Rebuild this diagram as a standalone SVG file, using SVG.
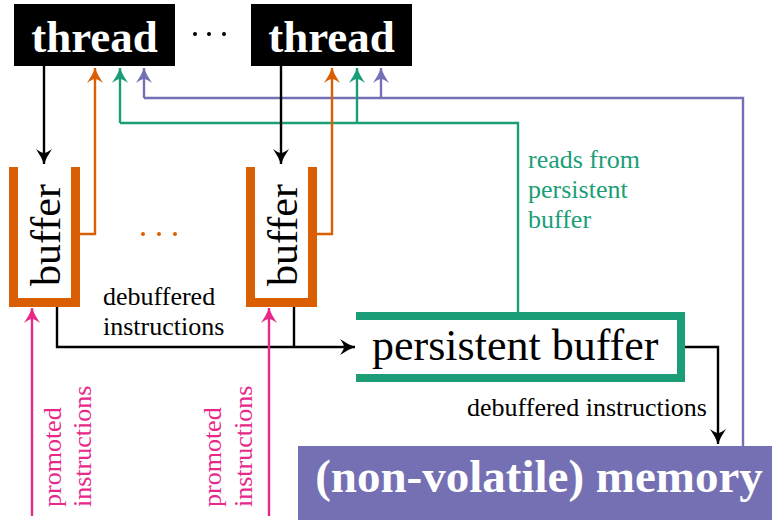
<svg xmlns="http://www.w3.org/2000/svg" width="772" height="520" viewBox="0 0 772 520" font-family="Liberation Serif, serif">
<defs>
<path id="ahp" d="M0,0 Q-7,-2.5 -15,-8 Q-11,-2.5 -11,0 Q-11,2.5 -15,8 Q-7,2.5 0,0 Z"/>
<marker id="ah-k" markerUnits="userSpaceOnUse" orient="auto" overflow="visible" markerWidth="1" markerHeight="1"><use href="#ahp" fill="#000"/></marker>
<marker id="ah-o" markerUnits="userSpaceOnUse" orient="auto" overflow="visible" markerWidth="1" markerHeight="1"><use href="#ahp" fill="#d95f02"/></marker>
<marker id="ah-g" markerUnits="userSpaceOnUse" orient="auto" overflow="visible" markerWidth="1" markerHeight="1"><use href="#ahp" fill="#1b9e77"/></marker>
<marker id="ah-p" markerUnits="userSpaceOnUse" orient="auto" overflow="visible" markerWidth="1" markerHeight="1"><use href="#ahp" fill="#7570b3"/></marker>
<marker id="ah-m" markerUnits="userSpaceOnUse" orient="auto" overflow="visible" markerWidth="1" markerHeight="1"><use href="#ahp" fill="#e7298a"/></marker>
</defs>
<rect width="772" height="520" fill="#fff"/>

<g id="connectors" fill="none" stroke-width="2.4">
  <g stroke="#7570b3">
    <path d="M743,446 V98 H144"/>
    <path d="M144,98 V68" marker-end="url(#ah-p)"/>
    <path d="M381,98 V68" marker-end="url(#ah-p)"/>
  </g>
  <g stroke="#1b9e77">
    <path d="M518,312 V123 H120"/>
    <path d="M120,123 V68" marker-end="url(#ah-g)"/>
    <path d="M357,123 V68" marker-end="url(#ah-g)"/>
  </g>
  <g stroke="#d95f02">
    <path d="M80,234 H95 V68" marker-end="url(#ah-o)"/>
    <path d="M317,234 H332 V68" marker-end="url(#ah-o)"/>
  </g>
  <g stroke="#000">
    <path d="M44,66 V164" marker-end="url(#ah-k)"/>
    <path d="M281,66 V164" marker-end="url(#ah-k)"/>
    <path d="M57,307 V347 H355" marker-end="url(#ah-k)"/>
    <path d="M294,307 V347"/>
    <path d="M685,347 H718 V444" marker-end="url(#ah-k)"/>
  </g>
  <g stroke="#e7298a">
    <path d="M32,516 V308" marker-end="url(#ah-m)"/>
    <path d="M269,516 V308" marker-end="url(#ah-m)"/>
  </g>
  <g font-size="26" stroke="none">
    <g fill="#000">
      <text x="103" y="305">debuffered</text>
      <text x="103" y="335">instructions</text>
      <text x="707" y="416" text-anchor="end">debuffered instructions</text>
    </g>
    <g fill="#1b9e77">
      <text x="528" y="168">reads from</text>
      <text x="528" y="198">persistent</text>
      <text x="528" y="228">buffer</text>
    </g>
    <g fill="#e7298a">
      <text transform="translate(61,507) rotate(-90)">promoted</text>
      <text transform="translate(91,507) rotate(-90)">instructions</text>
      <text transform="translate(221,507) rotate(-90)">promoted</text>
      <text transform="translate(252,507) rotate(-90)">instructions</text>
    </g>
  </g>
</g>

<g id="thread1">
  <rect x="14" y="4" width="161" height="62" fill="#000"/>
  <text x="94.5" y="52" font-size="45" font-weight="bold" fill="#fff" text-anchor="middle">thread</text>
</g>
<g id="thread-dots" fill="#000">
  <circle cx="195" cy="34" r="2"/><circle cx="209" cy="34" r="2"/><circle cx="224" cy="34" r="2"/>
</g>
<g id="thread2">
  <rect x="251" y="4" width="161" height="62" fill="#000"/>
  <text x="331.5" y="52" font-size="45" font-weight="bold" fill="#fff" text-anchor="middle">thread</text>
</g>

<g id="buffer1">
  <path d="M13.5,167 V302.5 H75.5 V167" fill="none" stroke="#d95f02" stroke-width="9"/>
  <text transform="translate(60,235) rotate(-90)" font-size="42" text-anchor="middle">buffer</text>
</g>
<g id="buffer-dots" fill="#d95f02">
  <circle cx="143" cy="234" r="2"/><circle cx="159" cy="234" r="2"/><circle cx="175" cy="234" r="2"/>
</g>
<g id="buffer2">
  <path d="M250.5,167 V302.5 H312.5 V167" fill="none" stroke="#d95f02" stroke-width="9"/>
  <text transform="translate(297,235) rotate(-90)" font-size="42" text-anchor="middle">buffer</text>
</g>

<g id="persistent-buffer">
  <path d="M356,316 H681 V378 H356" fill="none" stroke="#1b9e77" stroke-width="8"/>
  <text x="372" y="360" font-size="44">persistent buffer</text>
</g>

<g id="memory">
  <rect x="298" y="446" width="474" height="74" fill="#7570b3"/>
  <text x="539" y="492" font-size="47" font-weight="bold" fill="#fff" text-anchor="middle">(non-volatile) memory</text>
</g>
</svg>
